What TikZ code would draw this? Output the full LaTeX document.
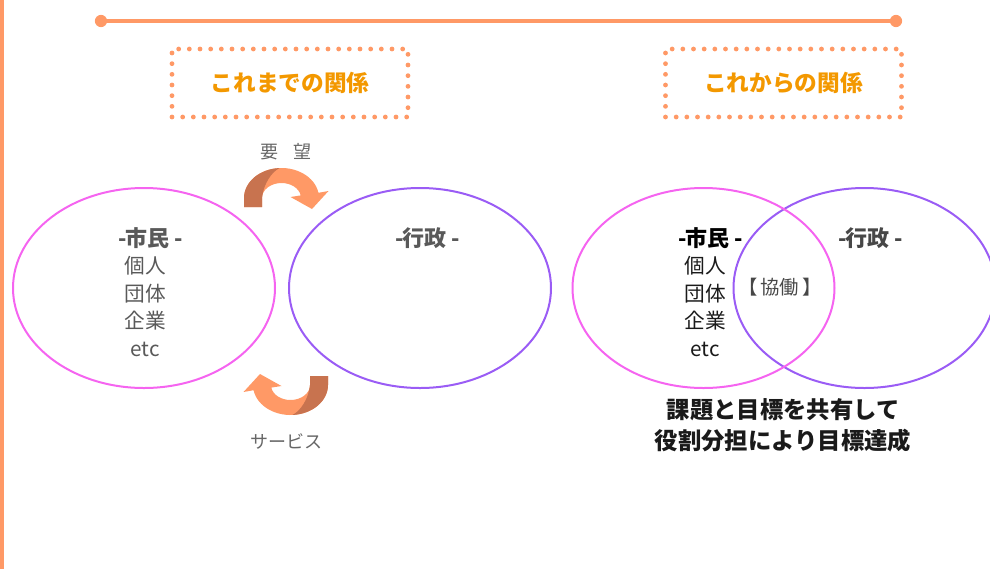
\documentclass[tikz,border=0pt]{standalone}
\usepackage{fontspec}
\setmainfont{Noto Sans CJK JP}
\usetikzlibrary{shapes.geometric}
\definecolor{org}{HTML}{FF9966}
\definecolor{orgdark}{HTML}{C8734F}
\definecolor{ttl}{HTML}{F39800}
\definecolor{pinkc}{HTML}{F564F0}
\definecolor{purc}{HTML}{9A5CF5}
\definecolor{txg}{HTML}{595959}
\definecolor{txl}{HTML}{666666}
\definecolor{txd}{HTML}{1A1A1A}
\begin{document}
\begin{tikzpicture}[x=0.75pt,y=-0.75pt,
  dotbox/.style={draw=org,line width=3.6pt,dash pattern=on 0pt off 8pt,line cap=round,
    minimum width=177pt,minimum height=51pt,inner sep=0pt,text=ttl,
    font=\bfseries\fontsize{17}{20}\selectfont},
  circ/.style={ellipse,line width=1.5pt,minimum width=196.5pt,minimum height=150pt,inner sep=0pt},
  head/.style={inner sep=0pt,font=\bfseries\fontsize{16.5}{20}\selectfont},
  item/.style={inner sep=0pt,font=\fontsize{15.5}{18}\selectfont},
  lab/.style={inner sep=0pt,text=txl,font=\fontsize{13.5}{16}\selectfont},
  concl/.style={inner sep=0pt,text=txd,font=\bfseries\fontsize{17.5}{21}\selectfont},
  pics/turnarrow/.style={code={
    \fill[org] (-37.5,0) -- (-37.5,9) -- (-19.5,9) -- (-19.5,0)
      arc[start angle=180,end angle=350,x radius=19.5,y radius=15]
      -- (9,-1) -- (30.5,11) -- (47,-7) -- (350:37.5 and 30)
      arc[start angle=350,end angle=180,x radius=37.5,y radius=30] -- cycle;
    \fill[orgdark] (-37.5,0) -- (-37.5,9) -- (-19.5,9) -- (-19.5,0)
      .. controls (-18,-14) and (-10,-26) .. (267:37.5 and 30)
      arc[start angle=267,end angle=180,x radius=37.5,y radius=30] -- cycle;
  }}]
\useasboundingbox (0,0) rectangle (990,569);
% left vertical rule
\coordinate (vt) at (1.5,0);
\coordinate (vb) at (1.5,569);
\draw[org,line width=3pt] (vt) -- (vb);
% top line with end dots
\coordinate (tl) at (101,21);
\coordinate (tr) at (896,21);
\draw[org,line width=3.6pt] (tl) -- (tr);
\fill[org] (tl) circle (4.6pt);
\fill[org] (tr) circle (4.6pt);
% titles
\node[dotbox] (t1) at (290,83) {これまでの関係};
\node[dotbox] (t2) at (783.5,83) {これからの関係};
% left ellipses
\node[circ,draw=pinkc] (c1) at (144,288) {};
\node[circ,draw=purc] (g1) at (420,288) {};
% right ellipses
\node[circ,draw=purc] (g2) at (864.5,288) {};
\node[circ,draw=pinkc] (c2) at (703.5,288) {};
% turning arrows
\pic at (281.5,198) {turnarrow};
\pic[rotate=180] at (290.5,385) {turnarrow};
\node[lab] (yb) at (286,152) {要\hspace{0.8em}望};
\node[lab] (sv) at (286,441) {サービス};
% left texts
\node[head,text=txg] (sm1) at (151,238) {-\kern-0.08em市民 -};
\node[item,text=txg] (a1) at (145,266) {個人};
\node[item,text=txg] (b1) at (145,294) {団体};
\node[item,text=txg] (e1) at (145,321) {企業};
\node[item,text=txg] (d1) at (145,349) {etc};
\node[head,text=txg] (gs1) at (428,238) {-\kern-0.08em行政 -};
% right texts
\node[head,text=black] (sm2) at (711,238) {-\kern-0.08em市民 -};
\node[item,text=txd] (a2) at (705,266) {個人};
\node[item,text=txd] (b2) at (705,294) {団体};
\node[item,text=txd] (e2) at (705,321) {企業};
\node[item,text=txd] (d2) at (705,349) {etc};
\node[head,text=txg!80!black] (gs2) at (871,238) {-\kern-0.08em行政 -};
\node[lab,text=txg!80!black,font=\fontsize{14.5}{17}\selectfont] (kd) at (780,287) {【\,協働\,】};
% conclusion
\node[concl] (k1) at (783,410) {課題と目標を共有して};
\node[concl] (k2) at (783,441) {役割分担により目標達成};
\end{tikzpicture}
\end{document}
